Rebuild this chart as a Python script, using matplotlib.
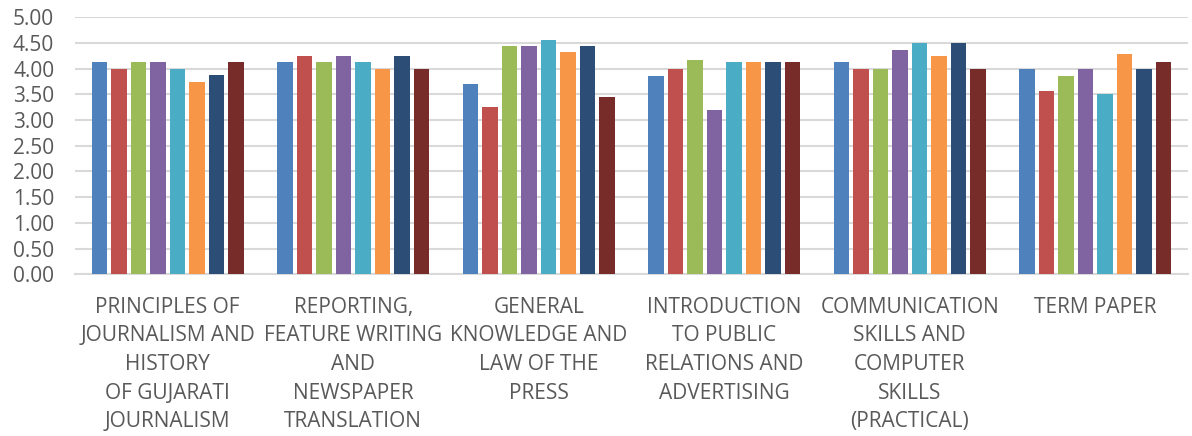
import numpy as np
import matplotlib
matplotlib.use("Agg")
import matplotlib.pyplot as plt

# kategorie (przedmioty) i wartosci dla 8 serii
categories = [
    "PRINCIPLES OF\nJOURNALISM AND\nHISTORY\nOF GUJARATI\nJOURNALISM",
    "REPORTING,\nFEATURE WRITING\nAND\nNEWSPAPER\nTRANSLATION",
    "GENERAL\nKNOWLEDGE AND\nLAW OF THE\nPRESS",
    "INTRODUCTION\nTO PUBLIC\nRELATIONS AND\nADVERTISING",
    "COMMUNICATION\nSKILLS AND\nCOMPUTER\nSKILLS\n(PRACTICAL)",
    "TERM PAPER",
]
s1 = [4.125, 4.125, 3.70, 3.85, 4.125, 4.00]
s2 = [4.00, 4.25, 3.25, 4.00, 4.00, 3.57]
s3 = [4.125, 4.125, 4.44, 4.16, 4.00, 3.85]
s4 = [4.125, 4.25, 4.44, 3.20, 4.37, 4.00]
s5 = [4.00, 4.125, 4.56, 4.14, 4.50, 3.50]
s6 = [3.75, 4.00, 4.33, 4.14, 4.25, 4.28]
s7 = [3.875, 4.25, 4.44, 4.14, 4.50, 4.00]
s8 = [4.125, 4.00, 3.44, 4.14, 4.00, 4.14]
series = [s1, s2, s3, s4, s5, s6, s7, s8]
colors = ["#4F81BD", "#C0504D", "#9BBB59", "#8064A2",
          "#4BACC6", "#F79646", "#2C4D75", "#772C2A"]
yticks = np.arange(0, 5.01, 0.5)

plt.rcParams["font.family"] = ["Open Sans", "DejaVu Sans"]
fig = plt.figure(figsize=(11.92, 4.36), dpi=100)
ax = fig.add_axes([0.0629, 0.3709, 0.9337, 0.5894])

x = np.arange(len(categories))
slot = 0.105
for j, (vals, col) in enumerate(zip(series, colors)):
    ax.bar(x + (j - 3.5) * slot, vals, width=0.083, color=col, linewidth=0, zorder=3)

ax.set_xlim(-0.5, len(categories) - 0.5)
ax.set_ylim(0, 5)
ax.set_yticks(yticks)
ax.set_yticklabels([f"{v:.2f}" for v in yticks], fontsize=15, color="#595959")
ax.set_xticks(x)
ax.set_xticklabels(categories, fontsize=15, color="#595959", linespacing=1.48, va="top")
ax.tick_params(axis="both", length=0)
ax.tick_params(axis="y", pad=15)
ax.tick_params(axis="x", pad=16)
ax.yaxis.grid(True, color="#d9d9d9", linewidth=1.5, zorder=0)
for sp in ["top", "right", "left"]:
    ax.spines[sp].set_visible(False)
ax.spines["bottom"].set_color("#d9d9d9")
ax.spines["bottom"].set_linewidth(1.5)

fig.savefig("out.png", dpi=100)
